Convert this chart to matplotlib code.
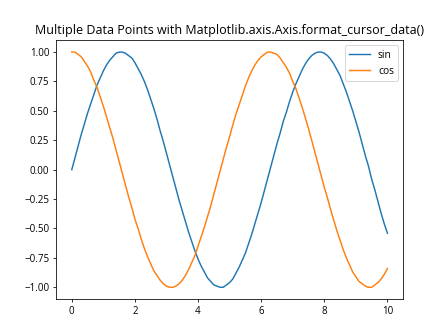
import matplotlib
matplotlib.use('Agg')
import matplotlib.pyplot as plt

plt.rcParams['font.family'] = ['Open Sans', 'DejaVu Sans']

# values, x step 0.1
x = [round(i * 0.1, 1) for i in range(101)]
sin_vals = [0.00, 0.10, 0.20, 0.30, 0.39, 0.48, 0.56, 0.64, 0.72, 0.78,
            0.84, 0.89, 0.93, 0.96, 0.99, 1.00, 1.00, 0.99, 0.97, 0.95,
            0.91, 0.86, 0.81, 0.75, 0.68, 0.60, 0.52, 0.43, 0.33, 0.24,
            0.14, 0.04, -0.06, -0.16, -0.26, -0.35, -0.44, -0.53, -0.61, -0.69,
            -0.76, -0.82, -0.87, -0.92, -0.95, -0.98, -0.99, -1.00, -1.00, -0.98,
            -0.96, -0.93, -0.88, -0.83, -0.77, -0.71, -0.63, -0.55, -0.46, -0.37,
            -0.28, -0.18, -0.08, 0.02, 0.12, 0.22, 0.31, 0.41, 0.49, 0.58,
            0.66, 0.73, 0.79, 0.85, 0.90, 0.94, 0.97, 0.99, 1.00, 1.00,
            0.99, 0.97, 0.94, 0.90, 0.85, 0.80, 0.73, 0.66, 0.58, 0.50,
            0.41, 0.32, 0.22, 0.12, 0.03, -0.08, -0.17, -0.27, -0.37, -0.46,
            -0.54]
cos_vals = [1.00, 1.00, 0.98, 0.96, 0.92, 0.88, 0.83, 0.76, 0.70, 0.62,
            0.54, 0.45, 0.36, 0.27, 0.17, 0.07, -0.03, -0.13, -0.23, -0.32,
            -0.42, -0.50, -0.59, -0.67, -0.74, -0.80, -0.86, -0.90, -0.94, -0.97,
            -0.99, -1.00, -1.00, -0.99, -0.97, -0.94, -0.90, -0.85, -0.79, -0.73,
            -0.65, -0.57, -0.49, -0.40, -0.31, -0.21, -0.11, -0.01, 0.09, 0.19,
            0.28, 0.38, 0.47, 0.55, 0.63, 0.71, 0.78, 0.84, 0.89, 0.93,
            0.96, 0.98, 1.00, 1.00, 0.99, 0.98, 0.95, 0.91, 0.87, 0.82,
            0.75, 0.69, 0.61, 0.53, 0.44, 0.35, 0.25, 0.15, 0.05, -0.05,
            -0.15, -0.24, -0.34, -0.43, -0.52, -0.60, -0.68, -0.75, -0.81, -0.87,
            -0.91, -0.95, -0.97, -0.99, -1.00, -1.00, -0.98, -0.96, -0.93, -0.89,
            -0.84]

fig, ax = plt.subplots(figsize=(6.4, 4.8), dpi=70)
ax.plot(x, sin_vals, label='sin')
ax.plot(x, cos_vals, label='cos')
ax.set_title('Multiple Data Points with Matplotlib.axis.Axis.format_cursor_data()',
             fontsize=12.8)
ax.legend(fontsize=10.5)
fig.savefig('out.png')
